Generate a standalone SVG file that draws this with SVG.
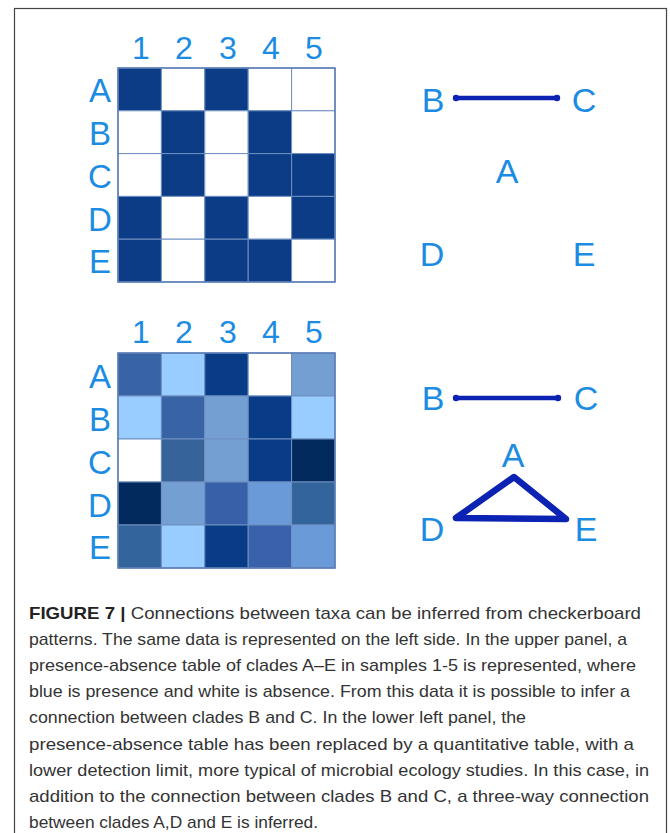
<svg xmlns="http://www.w3.org/2000/svg" width="670" height="833" viewBox="0 0 670 833">
<style>
.lbl{font-family:"Liberation Sans",Arial,sans-serif;fill:#1c8ce3;text-anchor:middle}
.gl{font-size:32px}
.rl{font-size:33px}
.nd{font-size:34px}
.cell{stroke:#6f90c2;stroke-width:1}
.d{fill:#0b3c85}
.w{fill:#ffffff}
.edge{stroke:#0b22b2;stroke-linecap:round;stroke-linejoin:round;fill:none}
.cap{font-family:"Liberation Sans",Arial,sans-serif;font-size:17px;fill:#333333}
</style>
<rect x="0" y="0" width="670" height="833" fill="#ffffff"/>
<rect x="14.5" y="8.5" width="652" height="840" fill="none" stroke="#444444" stroke-width="1.2"/>

<g id="matrix-top">
<g class="lbl gl">
<text x="141" y="59">1</text><text x="184" y="59">2</text><text x="228" y="59">3</text><text x="271" y="59">4</text><text x="314" y="59">5</text>
</g>
<g class="lbl rl">
<text x="100" y="102">A</text><text x="100" y="145">B</text><text x="100" y="188">C</text><text x="100" y="231">D</text><text x="100" y="273">E</text>
</g>
<g class="cell">
<rect class="d" x="118" y="68" width="43.4" height="42.8"/><rect class="w" x="161.4" y="68" width="43.4" height="42.8"/><rect class="d" x="204.8" y="68" width="43.4" height="42.8"/><rect class="w" x="248.2" y="68" width="43.4" height="42.8"/><rect class="w" x="291.6" y="68" width="43.4" height="42.8"/>
<rect class="w" x="118" y="110.8" width="43.4" height="42.8"/><rect class="d" x="161.4" y="110.8" width="43.4" height="42.8"/><rect class="w" x="204.8" y="110.8" width="43.4" height="42.8"/><rect class="d" x="248.2" y="110.8" width="43.4" height="42.8"/><rect class="w" x="291.6" y="110.8" width="43.4" height="42.8"/>
<rect class="w" x="118" y="153.6" width="43.4" height="42.8"/><rect class="d" x="161.4" y="153.6" width="43.4" height="42.8"/><rect class="w" x="204.8" y="153.6" width="43.4" height="42.8"/><rect class="d" x="248.2" y="153.6" width="43.4" height="42.8"/><rect class="d" x="291.6" y="153.6" width="43.4" height="42.8"/>
<rect class="d" x="118" y="196.4" width="43.4" height="42.8"/><rect class="w" x="161.4" y="196.4" width="43.4" height="42.8"/><rect class="d" x="204.8" y="196.4" width="43.4" height="42.8"/><rect class="w" x="248.2" y="196.4" width="43.4" height="42.8"/><rect class="d" x="291.6" y="196.4" width="43.4" height="42.8"/>
<rect class="d" x="118" y="239.2" width="43.4" height="42.8"/><rect class="w" x="161.4" y="239.2" width="43.4" height="42.8"/><rect class="d" x="204.8" y="239.2" width="43.4" height="42.8"/><rect class="d" x="248.2" y="239.2" width="43.4" height="42.8"/><rect class="w" x="291.6" y="239.2" width="43.4" height="42.8"/>
</g>
<rect x="118" y="68" width="217" height="214" fill="none" stroke="#5a7db5" stroke-width="1.5"/>
</g>

<g id="matrix-bottom">
<g class="lbl gl">
<text x="141" y="343">1</text><text x="184" y="343">2</text><text x="228" y="343">3</text><text x="271" y="343">4</text><text x="314" y="343">5</text>
</g>
<g class="lbl rl">
<text x="100" y="388">A</text><text x="100" y="431">B</text><text x="100" y="474">C</text><text x="100" y="517">D</text><text x="100" y="559">E</text>
</g>
<g class="cell">
<rect fill="#3863a5" x="118" y="353" width="43.4" height="43"/><rect fill="#99ccff" x="161.4" y="353" width="43.4" height="43"/><rect fill="#083c86" x="204.8" y="353" width="43.4" height="43"/><rect fill="#ffffff" x="248.2" y="353" width="43.4" height="43"/><rect fill="#749fd2" x="291.6" y="353" width="43.4" height="43"/>
<rect fill="#99ccff" x="118" y="396" width="43.4" height="43"/><rect fill="#3863a5" x="161.4" y="396" width="43.4" height="43"/><rect fill="#749fd2" x="204.8" y="396" width="43.4" height="43"/><rect fill="#083c86" x="248.2" y="396" width="43.4" height="43"/><rect fill="#99ccff" x="291.6" y="396" width="43.4" height="43"/>
<rect fill="#ffffff" x="118" y="439" width="43.4" height="43"/><rect fill="#36639a" x="161.4" y="439" width="43.4" height="43"/><rect fill="#749fd2" x="204.8" y="439" width="43.4" height="43"/><rect fill="#083c86" x="248.2" y="439" width="43.4" height="43"/><rect fill="#032a5d" x="291.6" y="439" width="43.4" height="43"/>
<rect fill="#032a5d" x="118" y="482" width="43.4" height="43"/><rect fill="#749fd2" x="161.4" y="482" width="43.4" height="43"/><rect fill="#3760a8" x="204.8" y="482" width="43.4" height="43"/><rect fill="#6a9ad8" x="248.2" y="482" width="43.4" height="43"/><rect fill="#33649b" x="291.6" y="482" width="43.4" height="43"/>
<rect fill="#33649b" x="118" y="525" width="43.4" height="43"/><rect fill="#99ccff" x="161.4" y="525" width="43.4" height="43"/><rect fill="#083c86" x="204.8" y="525" width="43.4" height="43"/><rect fill="#3a62ac" x="248.2" y="525" width="43.4" height="43"/><rect fill="#6a9ad8" x="291.6" y="525" width="43.4" height="43"/>
</g>
<rect x="118" y="353" width="217" height="215" fill="none" stroke="#5a7db5" stroke-width="1.5"/>
</g>

<g id="connectors">
<line class="edge" x1="456" y1="98" x2="557" y2="98" stroke-width="4.5"/>
<circle cx="456" cy="98" r="3.2" fill="#0b22b2"/><circle cx="557" cy="98" r="3.2" fill="#0b22b2"/>
<line class="edge" x1="456" y1="398" x2="558" y2="398" stroke-width="4.5"/>
<circle cx="456" cy="398" r="3.2" fill="#0b22b2"/><circle cx="558" cy="398" r="3.2" fill="#0b22b2"/>
<polygon class="edge" points="514,477 456,518 566,519" stroke-width="6.5"/>
</g>

<g id="graph-top">
<g id="node-top-B"><text class="lbl nd" x="433" y="112">B</text></g>
<g id="node-top-C"><text class="lbl nd" x="584" y="112">C</text></g>
<g id="node-top-A"><text class="lbl nd" x="507" y="183">A</text></g>
<g id="node-top-D"><text class="lbl nd" x="432" y="266">D</text></g>
<g id="node-top-E"><text class="lbl nd" x="584" y="266">E</text></g>
</g>
<g id="graph-bottom">
<g id="node-bot-B"><text class="lbl nd" x="433" y="410">B</text></g>
<g id="node-bot-C"><text class="lbl nd" x="586" y="410">C</text></g>
<g id="node-bot-A"><text class="lbl nd" x="513" y="467">A</text></g>
<g id="node-bot-D"><text class="lbl nd" x="432" y="541">D</text></g>
<g id="node-bot-E"><text class="lbl nd" x="586" y="541">E</text></g>
</g>

<g id="caption" class="cap">
<text x="29" y="619" textLength="612" lengthAdjust="spacingAndGlyphs"><tspan font-weight="bold" fill="#222222">FIGURE 7 |</tspan> Connections between taxa can be inferred from checkerboard</text>
<text x="29" y="645" textLength="598" lengthAdjust="spacingAndGlyphs">patterns. The same data is represented on the left side. In the upper panel, a</text>
<text x="29" y="671" textLength="607" lengthAdjust="spacingAndGlyphs">presence-absence table of clades A–E in samples 1-5 is represented, where</text>
<text x="29" y="697" textLength="601" lengthAdjust="spacingAndGlyphs">blue is presence and white is absence. From this data it is possible to infer a</text>
<text x="29" y="723" textLength="497" lengthAdjust="spacingAndGlyphs">connection between clades B and C. In the lower left panel, the</text>
<text x="29" y="750" textLength="605" lengthAdjust="spacingAndGlyphs">presence-absence table has been replaced by a quantitative table, with a</text>
<text x="29" y="776" textLength="620" lengthAdjust="spacingAndGlyphs">lower detection limit, more typical of microbial ecology studies. In this case, in</text>
<text x="29" y="802" textLength="620" lengthAdjust="spacingAndGlyphs">addition to the connection between clades B and C, a three-way connection</text>
<text x="29" y="828" textLength="289" lengthAdjust="spacingAndGlyphs">between clades A,D and E is inferred.</text>
</g>
</svg>
